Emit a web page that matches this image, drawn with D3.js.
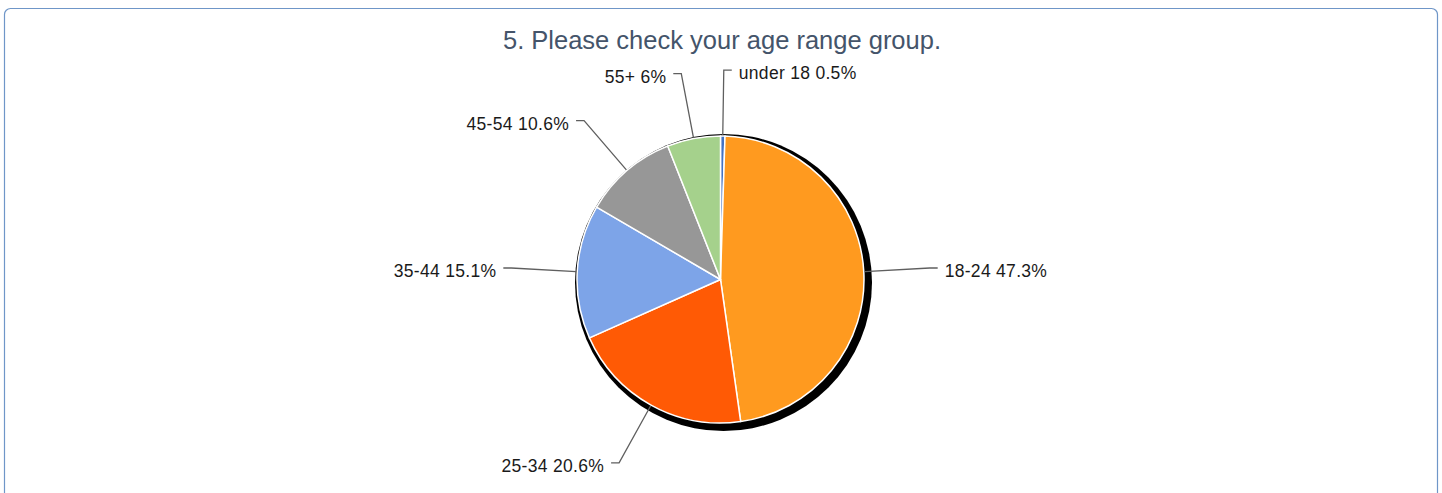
<!DOCTYPE html>
<html>
<head>
<meta charset="utf-8">
<script src="https://cdn.jsdelivr.net/npm/d3@7"></script>
<style>
  body { margin: 0; background: #fff; }
  svg { display: block; font-family: "Liberation Sans", Arial, sans-serif; }
</style>
</head>
<body>
<svg id="chart" width="1442" height="493"></svg>
<script>
// age groups, clockwise from 12 o'clock
var categories = ["under 18", "18-24", "25-34", "35-44", "45-54", "55+"];
var percents = [0.5, 47.3, 20.6, 15.1, 10.6, 6];
var labelTexts = ["under 18 0.5%", "18-24 47.3%", "25-34 20.6%", "35-44 15.1%", "45-54 10.6%", "55+ 6%"];
var colors = ["#4472c4", "#ff9a1f", "#ff5a05", "#7da4e8", "#979797", "#a5d18c"];

var W = 1442, H = 493;
var cx = 720.5, cy = 279.5, r = 143.5;

var svg = d3.select("#chart");

// frame
svg.append("rect")
  .attr("x", 4.5).attr("y", 8.5)
  .attr("width", 1433).attr("height", 500)
  .attr("rx", 6).attr("ry", 6)
  .attr("fill", "#fff")
  .attr("stroke", "#6f96c8")
  .attr("stroke-width", 1.2);

svg.append("text")
  .attr("x", 722).attr("y", 49)
  .attr("text-anchor", "middle")
  .attr("fill", "#44546a")
  .attr("font-size", 25.5)
  .text("5. Please check your age range group.");

var data = categories.map(function(c, i) {
  return {name: c, value: percents[i], label: labelTexts[i], color: colors[i]};
});

var pie = d3.pie().sort(null).value(function(d) { return d.value; });
var arcs = pie(data);
var arc = d3.arc().innerRadius(0).outerRadius(r);

var g = svg.append("g").attr("transform", "translate(" + cx + "," + cy + ")");

// drop shadow
g.append("circle")
  .attr("cx", 3).attr("cy", 3).attr("r", r + 5)
  .attr("fill", "#000");

g.selectAll(".slice")
  .data(arcs)
  .enter().append("path")
  .attr("class", "slice")
  .attr("d", arc)
  .attr("fill", function(d) { return d.data.color; })
  .attr("stroke", "#fff")
  .attr("stroke-width", 1.5)
  .attr("stroke-linejoin", "round");

// leader lines + labels
var elbowR = 209.5, tick = 8, gap = 7;
arcs.forEach(function(a) {
  var mid = (a.startAngle + a.endAngle) / 2;
  var sx = Math.sin(mid), sy = -Math.cos(mid);
  var side = sx >= -0.02 ? 1 : -1;
  var p0 = [sx * (r + 1), sy * (r + 1)];
  var p1 = [sx * elbowR, sy * elbowR];
  var p2 = [p1[0] + side * tick, p1[1]];
  g.append("path")
    .attr("d", d3.line()([p0, p1, p2]))
    .attr("fill", "none")
    .attr("stroke", "#5f5f5f")
    .attr("stroke-width", 1.3);
  g.append("text")
    .attr("x", p2[0] + side * gap)
    .attr("y", p2[1] + 9)
    .attr("text-anchor", side > 0 ? "start" : "end")
    .attr("font-size", 17.5)
    .attr("letter-spacing", 0.3)
    .attr("fill", "#1a1a1a")
    .text(a.data.label);
});
</script>
</body>
</html>
